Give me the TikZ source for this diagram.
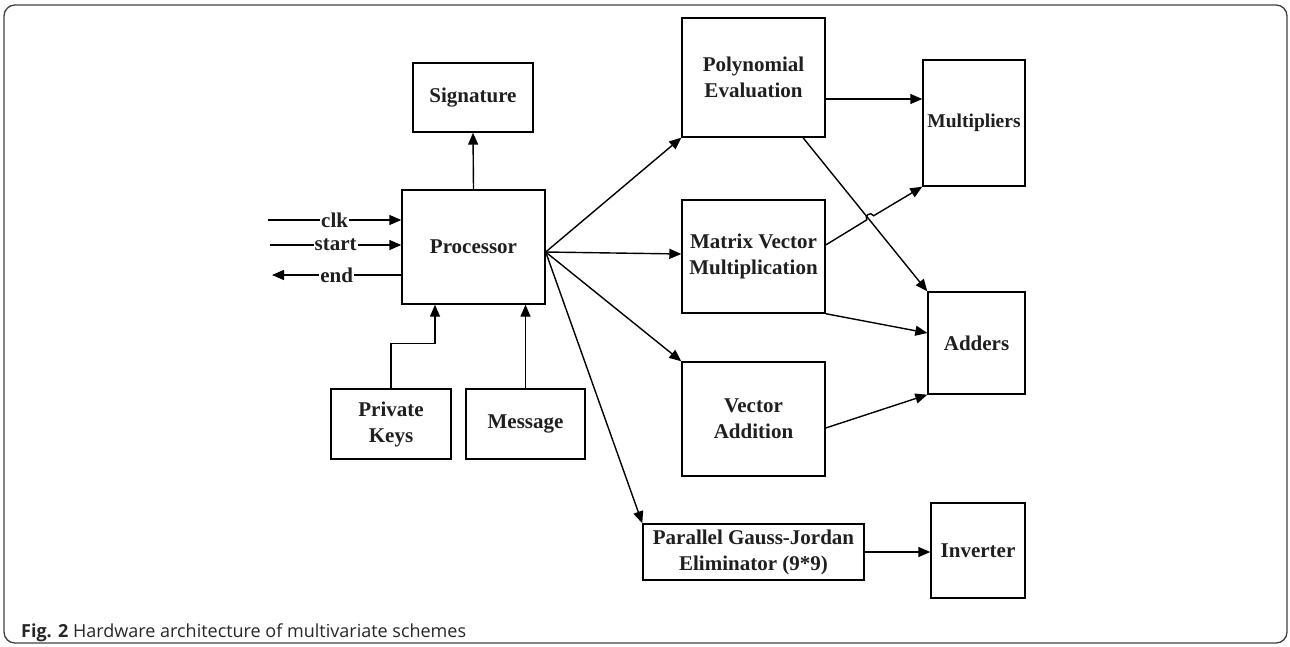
\documentclass[tikz,border=0pt]{standalone}
\usepackage{fontspec}
\usetikzlibrary{arrows.meta,calc}
\newfontfamily\diagfont{Liberation Serif}
\newfontfamily\capfont{Open Sans}
\begin{document}
\begin{tikzpicture}[x=1pt,y=-1pt,
  box/.style={draw, line width=1.4pt, align=center, inner sep=0pt,
    font=\diagfont\bfseries\fontsize{21}{26}\selectfont, text=black!88},
  conn/.style={line width=1.4pt, -{Triangle[length=12pt,width=10pt]}},
  lbl/.style={fill=white, inner sep=1pt, font=\diagfont\bfseries\fontsize{21}{26}\selectfont, text=black!88},
  frame/.style={draw=black!75, line width=1.3pt, rounded corners=11pt}]
\useasboundingbox (0,0) rectangle (1290,646);
\draw[frame] (4,5) rectangle (1287,643);

\node[box, minimum width=120, minimum height=69] (sig) at (473,97.5) {Signature};
\node[box, minimum width=143, minimum height=114] (proc) at (473.5,247) {Processor};
\node[box, minimum width=120, minimum height=70] (pk) at (391,424) {Private\\Keys};
\node[box, minimum width=119, minimum height=70] (msg) at (525.5,424) {Message};
\node[box, minimum width=143, minimum height=119] (poly) at (753.5,77.5) {Polynomial\\Evaluation};
\node[box, minimum width=143, minimum height=113] (mvm) at (753.5,256.5) {Matrix Vector\\Multiplication};
\node[box, minimum width=143, minimum height=114] (va) at (753.5,419) {Vector\\Addition};
\node[box, minimum width=221, minimum height=56] (gj) at (753.5,552) {Parallel Gauss-Jordan\\Eliminator (9*9)};
\node[box, minimum width=102, minimum height=126, font=\diagfont\bfseries\fontsize{19.5}{24}\selectfont] (mult) at (974,123) {Multipliers};
\node[box, minimum width=97, minimum height=102] (add) at (976.5,343) {Adders};
\node[box, minimum width=94, minimum height=95] (inv) at (978,550.5) {Inverter};

\coordinate (clkin) at (268,220);
\coordinate (startin) at (270,245);
\coordinate (endout) at (272,275);
\draw[conn] (clkin) -- node[lbl] {clk} (proc.west |- clkin);
\draw[conn] (startin) -- node[lbl] {start} (proc.west |- startin);
\draw[conn] (proc.west |- endout) -- node[lbl] {end} (endout);

\draw[conn] (proc.north) -- (sig.south);
\draw[conn] (pk.north) -- ++(0,-45) -| ([xshift=-38.5pt]proc.south);
\draw[conn] (msg.north) -- (msg.north |- proc.south);

\coordinate (fan) at ([yshift=-5pt]proc.east);
\draw[conn] (fan) -- (poly.south west);
\draw[conn] (fan) -- ([yshift=2.5pt]mvm.west);
\draw[conn] (fan) -- (va.north west);
\draw[conn] (fan) -- (gj.north west);

\draw[conn] ([yshift=-21.5pt]poly.east) -- ([yshift=-21.5pt]poly.east -| mult.west);
\draw[conn] ([xshift=49.5pt]poly.south) -- (add.north west);
\coordinate (hopA) at (866.77,219.86);
\coordinate (hopB) at (873.63,215.74);
\draw[conn] ([yshift=11.5pt]mvm.east) -- (hopA) .. controls (864.0,215.3) and (870.9,211.2) .. (hopB) -- (mult.south west);
\draw[conn] (mvm.south east) -- ([yshift=10pt]add.west);
\draw[conn] ([yshift=-9pt]va.east) -- (add.south west);
\draw[conn] (gj.east) -- (gj.east -| inv.west);

\node[anchor=base west, inner sep=0pt, font=\capfont\fontsize{18}{21}\selectfont, text=black!85] (cap) at (21,637)
  {\textbf{Fig. 2} Hardware architecture of multivariate schemes};
\end{tikzpicture}
\end{document}
